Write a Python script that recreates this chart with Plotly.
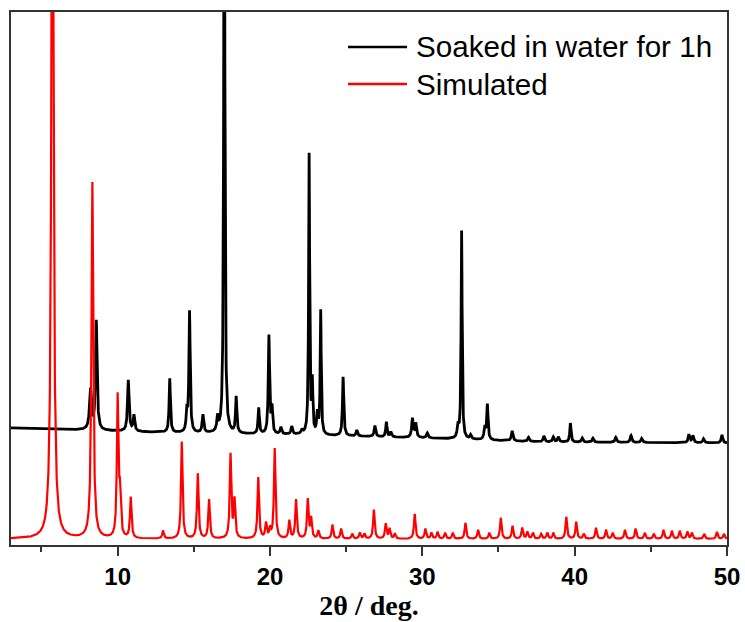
import numpy as np
import plotly.graph_objects as go

# ---- Data (2-theta positions, peak heights above baseline, HWHM) ----
# Experimental pattern: "Soaked in water for 1h"
exp_pos = [8.22, 8.60, 10.70, 11.07, 13.42, 14.54, 14.72, 15.60, 16.56, 17.00, 17.78,
           19.26, 19.93, 20.13, 20.72, 21.43, 22.10, 22.57, 22.78, 23.11, 23.33, 24.80,
           25.70, 26.89, 27.64, 27.93, 29.35, 29.57, 30.33, 32.34, 32.58, 33.17, 34.10,
           34.27, 35.90, 36.97, 37.98, 38.60, 38.93, 39.72, 40.50, 41.20, 42.70, 43.70,
           44.40, 47.50, 47.76, 48.46, 49.67]
exp_h = [40, 109, 51, 16, 54, 20, 121, 18, 14, 720, 36,
         26, 98, 25, 7, 8, 4, 280, 50, 20, 124, 59,
         6, 11, 15, 5, 19, 14, 5, 12, 208, 4, 12,
         35, 10, 4, 6, 5, 5, 19, 4, 4, 5, 7,
         4, 8, 7, 4, 8]
exp_w = [0.08, 0.06, 0.06, 0.06, 0.05, 0.05, 0.05, 0.06, 0.06, 0.04, 0.05,
         0.05, 0.05, 0.05, 0.06, 0.06, 0.06, 0.04, 0.04, 0.05, 0.04, 0.05,
         0.06, 0.06, 0.05, 0.06, 0.06, 0.06, 0.06, 0.06, 0.04, 0.06, 0.06,
         0.05, 0.06, 0.06, 0.06, 0.06, 0.06, 0.05, 0.06, 0.06, 0.06, 0.06,
         0.06, 0.06, 0.06, 0.06, 0.06]
exp_base_x = [3, 14, 22, 30, 38, 50]
exp_base_y = [117, 112, 110, 107, 103, 102]

# Simulated pattern
sim_pos = [5.72, 8.34, 10.00, 10.15, 10.86, 12.98, 14.21, 15.26, 16.00, 17.41, 17.67,
           19.23, 19.74, 20.00, 20.31, 21.27, 21.71, 22.48, 22.70, 23.18, 24.10, 24.67,
           25.40, 25.90, 26.20, 26.82, 27.60, 27.85, 28.20, 29.50, 30.20, 30.60, 31.00,
           31.50, 32.00, 32.83, 33.66, 34.40, 35.15, 35.92, 36.56, 36.90, 37.26, 37.80,
           38.20, 38.60, 39.45, 40.10, 40.60, 41.40, 42.06, 42.50, 43.30, 44.00, 44.60,
           45.20, 45.83, 46.38, 46.90, 47.40, 47.70, 48.50, 49.34, 49.80]
sim_h = [900, 356, 140, 40, 41, 8, 97, 65, 39, 84, 38,
         61, 15, 9, 90, 18, 39, 39, 20, 8, 14, 10,
         5, 6, 5, 29, 15, 10, 5, 25, 10, 6, 7,
         6, 6, 16, 9, 6, 21, 13, 11, 7, 6, 5,
         6, 6, 22, 17, 5, 11, 9, 6, 9, 10, 6,
         5, 9, 8, 8, 7, 6, 5, 7, 5]
sim_w = [0.075, 0.07] + [0.06] * (len(sim_pos) - 2)
sim_base = 6

series_names = ["Soaked in water for 1h", "Simulated"]
series_colors = ["#000000", "#ff0000"]

# ---- Build profiles (Lorentzian peaks on a baseline) ----
x = np.linspace(3, 50, 4701)


def profile(pos, h, w):
    y = np.zeros_like(x)
    for p, hh, ww in zip(pos, h, w):
        y += hh * ww ** 2 / ((x - p) ** 2 + ww ** 2)
    return y


y_exp = np.interp(x, exp_base_x, exp_base_y) + profile(exp_pos, exp_h, exp_w)
y_sim = sim_base + profile(sim_pos, sim_h, sim_w)

fig = go.Figure()
fig.add_trace(go.Scatter(x=x, y=y_exp, mode="lines", name=series_names[0],
                         line=dict(color=series_colors[0], width=2.8)))
fig.add_trace(go.Scatter(x=x, y=y_sim, mode="lines", name=series_names[1],
                         line=dict(color=series_colors[1], width=2.2)))

# Legend drawn as line samples + text (to match the compact spacing of the reference)
W, H = 745, 622
L, R, T, B = 11, 18, 12, 77
pw, ph = W - L - R, H - T - B


def px_x(p):
    return (p - L) / pw


def px_y(p):
    return 1 - (p - T) / ph


legend_rows = [47, 84]
for name, col, yy in zip(series_names, series_colors, legend_rows):
    fig.add_shape(type="line", xref="paper", yref="paper",
                  x0=px_x(348), x1=px_x(407), y0=px_y(yy), y1=px_y(yy),
                  line=dict(color=col, width=2.5))
    fig.add_annotation(xref="paper", yref="paper", x=px_x(414), y=px_y(yy),
                       xanchor="left", yanchor="middle", showarrow=False, text=name,
                       font=dict(family="Liberation Sans, Arial, sans-serif", size=29.6,
                                 color="#000"))

fig.update_layout(
    width=W, height=H,
    margin=dict(l=L, r=R, t=T, b=B),
    plot_bgcolor="white", paper_bgcolor="white",
    showlegend=False,
    xaxis=dict(range=[3, 50], tickvals=[10, 20, 30, 40, 50], ticks="outside",
               ticklen=9, tickwidth=1.5, tickcolor="#333", automargin=False,
               minor=dict(tickvals=[5, 15, 25, 35, 45], ticks="outside", ticklen=5,
                          tickwidth=1.5, tickcolor="#333"),
               showline=True, linewidth=1.5, linecolor="#333", mirror=True,
               showgrid=False, zeroline=False,
               tickfont=dict(family="Liberation Sans, Arial, sans-serif", size=24,
                             color="#000", weight="bold"),
               title=dict(text="2θ / deg.", standoff=0,
                          font=dict(family="Liberation Serif, Times New Roman, serif",
                                    size=28, color="#000", weight="bold"))),
    yaxis=dict(range=[0, 533], showticklabels=False, ticks="", showgrid=False,
               zeroline=False, showline=True, linewidth=1.5, linecolor="#333",
               mirror=True, automargin=False),
)

fig.write_html("out.html", config={"displayModeBar": False},
               post_script="document.body.style.margin='0';document.body.style.overflow='hidden';")
